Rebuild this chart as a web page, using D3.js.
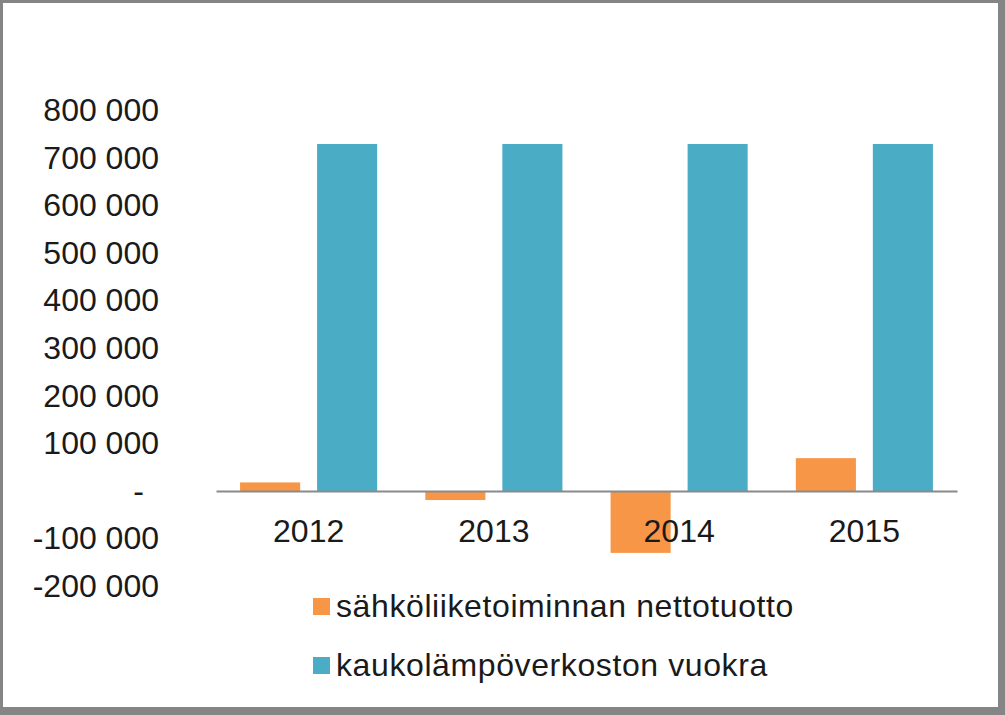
<!DOCTYPE html>
<html>
<head>
<meta charset="utf-8">
<script src="https://cdn.jsdelivr.net/npm/d3@7"></script>
<style>
	body { margin: 0; background: #fff; }
	text { font-family: "Liberation Sans", Arial, sans-serif; fill: #1a1a1a; }
</style>
</head>
<body>
<div id="chart"></div>
<script>
// chart data
const years = ["2012", "2013", "2014", "2015"];
const seriesNames = ["sähköliiketoiminnan nettotuotto", "kaukolämpöverkoston vuokra"];
const nettotuotto = [18000, -19000, -130000, 69000];
const vuokra = [729000, 729000, 729000, 729000];
const yTicks = [800000, 700000, 600000, 500000, 400000, 300000, 200000, 100000, 0, -100000, -200000];
const colors = ["#F79646", "#4BACC6"];

const width = 1005, height = 715;
const plot = { left: 216, right: 957, zeroY: 491 };

let svg = d3.select("#chart")
	.append("svg")
	.attr("width", width)
	.attr("height", height);

// frame with shadow
svg.append("rect")
	.attr("width", width).attr("height", height)
	.attr("fill", "#858585");
svg.append("rect")
	.attr("x", 3).attr("y", 3)
	.attr("width", 995).attr("height", 704)
	.attr("fill", "#fff");

let y = d3.scaleLinear()
	.domain([-200000, 800000])
	.range([plot.zeroY + 2 * 47.6, plot.zeroY - 8 * 47.6]);

let x0 = d3.scaleBand()
	.domain(years)
	.range([plot.left, plot.right])
	.paddingInner(0.26)
	.paddingOuter(0.13);

let x1 = d3.scaleBand()
	.domain([0, 1])
	.range([0, x0.bandwidth()])
	.paddingInner(0.22);

// thousands with spaces, plain hyphen for negatives, "-" for zero
const fmt = v => v === 0 ? "-" : (v < 0 ? "-" : "") + d3.format(",")(Math.abs(v)).replace(/,/g, " ");

// y axis labels
let yAxis = g => g
	.attr("transform", "translate(159,0)")
	.call(d3.axisLeft(y).tickValues(yTicks).tickFormat(fmt).tickSize(0).tickPadding(0))
	.call(g => g.select(".domain").remove())
	.call(g => g.selectAll(".tick text")
		.attr("font-size", 32)
		.attr("dx", d => d === 0 ? -15 : 0));
svg.append("g").call(yAxis);

// bars
const rows = years.map((yr, i) => ({ year: yr, values: [nettotuotto[i], vuokra[i]] }));
svg.append("g")
	.selectAll("g")
	.data(rows)
	.join("g")
	.attr("transform", d => `translate(${x0(d.year)},0)`)
	.selectAll("rect")
	.data(d => d.values.map((v, k) => ({ k, v })))
	.join("rect")
	.attr("x", d => x1(d.k))
	.attr("width", x1.bandwidth())
	.attr("y", d => y(Math.max(0, d.v)))
	.attr("height", d => Math.abs(y(d.v) - y(0)))
	.attr("fill", d => colors[d.k]);

// x axis at zero
let xAxis = g => g
	.attr("transform", `translate(0,${y(0)})`)
	.call(d3.axisBottom(x0).tickSize(0).tickPadding(28))
	.call(g => g.select(".domain").attr("stroke", "#8a8a8a").attr("stroke-width", 2))
	.call(g => g.selectAll(".tick text").attr("font-size", 32));
svg.append("g").call(xAxis);

// legend
let legend = svg.append("g")
	.selectAll("g")
	.data(seriesNames)
	.join("g")
	.attr("transform", (d, i) => `translate(313,${598 + i * 59})`);
legend.append("rect")
	.attr("width", 17).attr("height", 17)
	.attr("fill", (d, i) => colors[i]);
legend.append("text")
	.attr("x", 23)
	.attr("y", 19)
	.attr("font-size", 32)
	.attr("letter-spacing", 0.6)
	.text(d => d);
</script>
</body>
</html>
